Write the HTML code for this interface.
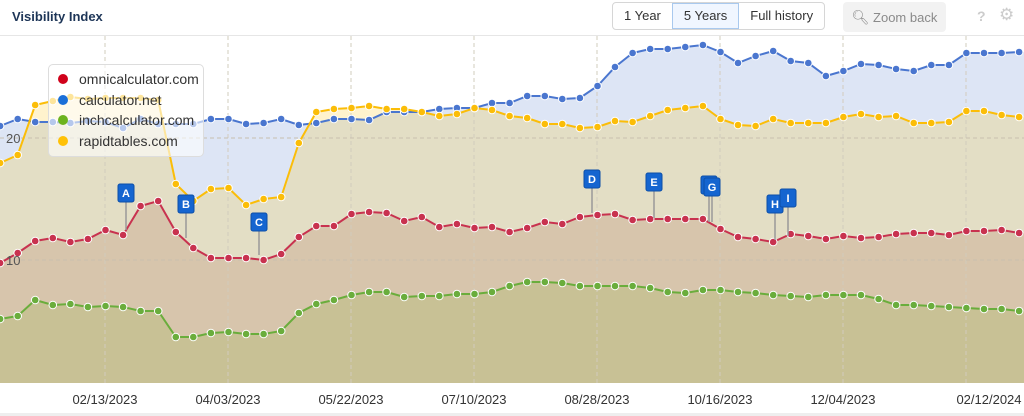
<!DOCTYPE html>
<html><head><meta charset="utf-8"><style>
html,body{margin:0;padding:0;background:#fff;width:1024px;height:416px;overflow:hidden;font-family:"Liberation Sans",sans-serif}
.t{position:absolute;left:12px;top:9px;font-size:13px;font-weight:bold;color:#1d3557}
.btns{position:absolute;left:612px;top:2px;height:26px;border:1px solid #d6d6d6;border-radius:4px;display:flex;font-size:13px;color:#333;overflow:hidden}
.btns div{padding:0 11px;line-height:26px}
.btns .s{background:#f0f6ff;border:1px solid #a9c9ee;line-height:24px}
.zb{position:absolute;left:843px;top:2px;width:103px;height:30px;background:#f2f2f2;border-radius:4px;color:#8a8a8a;font-size:13px;line-height:30px;text-align:center}
.hr{position:absolute;left:0;top:35px;width:1024px;height:1px;background:#e6e6e6}
.lg{position:absolute;left:48px;top:64px;width:154px;height:91px;background:rgba(255,255,255,0.6);border:1px solid #ddd;border-radius:5px;font-size:14px;color:#333}
.lg div{position:absolute;left:30px;line-height:20px}
.lg span{position:absolute;left:-21px;top:5px;width:10px;height:10px;border-radius:50%}
</style></head><body>
<svg id="c" width="1024" height="416" style="position:absolute;left:0;top:0"></svg>
<div class="t">Visibility Index</div>
<div class="btns"><div>1 Year</div><div class="s">5 Years</div><div>Full history</div></div>
<div class="zb"><span style="font-size:14px">&#x1F50D;&#xFE0E;</span> Zoom back</div>
<div style="position:absolute;left:977px;top:8px;color:#ccc;font-size:14px;font-weight:bold">?</div>
<div style="position:absolute;left:999px;top:5px;color:#ccc;font-size:17px">&#9881;</div>
<div class="hr"></div>
<div class="lg">
<div style="top:4px"><span style="background:#d0021b"></span>omnicalculator.com</div>
<div style="top:25px"><span style="background:#1a6fd8"></span>calculator.net</div>
<div style="top:45px"><span style="background:#6cb31f"></span>inchcalculator.com</div>
<div style="top:66px"><span style="background:#ffc107"></span>rapidtables.com</div>
</div>
<script>
var xs=[];for(var k=-6;k<=52;k++)xs.push(105.5+17.57*k);
var blue=[126,119,122,122,123,121,122,128,119,124,124,124,119,119,124,123,119,125,123,119,119,120,112,112,112,109,108,108,103,103,96,96,99,98,86,67,53,49,49,47,45,52,63,56,51,61,63,76,71,64,65,69,71,65,65,53,53,53,52];
var yel=[163,155,105,101,97,99,98,98,98,100,184,201,189,188,205,199,197,143,112,109,108,106,109,109,112,116,114,108,110,116,118,124,124,128,127,121,122,116,110,108,106,119,125,126,119,123,123,123,117,114,117,116,123,123,122,111,111,115,117];
var red=[263,253,241,238,242,239,230,235,206,201,232,248,258,258,258,260,254,237,226,226,214,212,213,221,217,227,224,228,227,232,228,222,224,217,215,214,220,219,219,219,219,229,237,239,242,234,236,239,236,238,237,234,233,233,235,231,231,230,233];
var grn=[319,316,300,305,304,307,306,307,311,311,337,337,333,332,334,334,331,313,304,300,295,292,292,297,296,296,294,294,292,286,282,282,283,286,286,286,286,288,292,293,290,290,292,293,295,296,297,295,295,295,299,305,305,306,307,308,309,309,311];
var s='';
function pts(a){return a.map(function(y,i){return xs[i].toFixed(1)+','+y}).join(' ')}
function area(a,f){s+='<polygon points="-2,383 '+pts(a)+' 1026,'+a[a.length-1]+' 1026,383" fill="'+f+'"/>'}
area(blue,'rgba(77,119,203,0.19)');area(yel,'rgba(255,193,7,0.2)');area(red,'rgba(172,101,77,0.2)');area(grn,'rgba(141,182,58,0.2)');
[105,228,351,474,597,720,843,966].forEach(function(x){s+='<line x1="'+x+'" y1="36" x2="'+x+'" y2="383" stroke="#d2ccbd" stroke-dasharray="4,3" stroke-width="1"/>'});
[138,260].forEach(function(y){s+='<line x1="0" y1="'+y+'" x2="1024" y2="'+y+'" stroke="#c8c0ae" stroke-dasharray="4,3" stroke-width="1"/>'});
function line(a,c){s+='<polyline points="'+pts(a)+'" fill="none" stroke="'+c+'" stroke-width="2"/>';a.forEach(function(y,i){s+='<circle cx="'+xs[i].toFixed(1)+'" cy="'+y+'" r="3.8" fill="'+c+'" stroke="#fff" stroke-width="1"/>'})}
line(grn,'#6aad3c');line(red,'#c8324f');line(blue,'#4a76cf');line(yel,'#fbbd08');
function flag(x,top,bot,l){s+='<line x1="'+x+'" y1="'+top+'" x2="'+x+'" y2="'+bot+'" stroke="#999" stroke-width="1.5"/><rect x="'+(x-8)+'" y="'+(top-18)+'" width="16" height="18" rx="2" fill="#1565d0" stroke="#0d4fa8"/><text x="'+x+'" y="'+(top-5)+'" fill="#fff" font-size="11" font-weight="bold" text-anchor="middle" font-family="Liberation Sans">'+l+'</text>'}
flag(126,202,230,'A');flag(186,213,238,'B');flag(259,231,255,'C');flag(592,188,213,'D');flag(654,191,218,'E');flag(709,194,222,'');flag(712,196,222,'G');flag(775,213,240,'H');flag(788,207,236,'I');
s+='<text x="6" y="143" font-size="13" fill="#555" font-family="Liberation Sans">20</text><text x="6" y="265" font-size="13" fill="#555" font-family="Liberation Sans">10</text>';
s+='<rect x="0" y="383" width="1024" height="30" fill="#fff"/><rect x="0" y="413" width="1024" height="3" fill="#eee"/>';
[[105,'02/13/2023'],[228,'04/03/2023'],[351,'05/22/2023'],[474,'07/10/2023'],[597,'08/28/2023'],[720,'10/16/2023'],[843,'12/04/2023'],[989,'02/12/2024']].forEach(function(d){s+='<text x="'+d[0]+'" y="404" font-size="13" fill="#333" text-anchor="middle" font-family="Liberation Sans">'+d[1]+'</text>'});
document.getElementById('c').innerHTML=s;
</script>
</body></html>
